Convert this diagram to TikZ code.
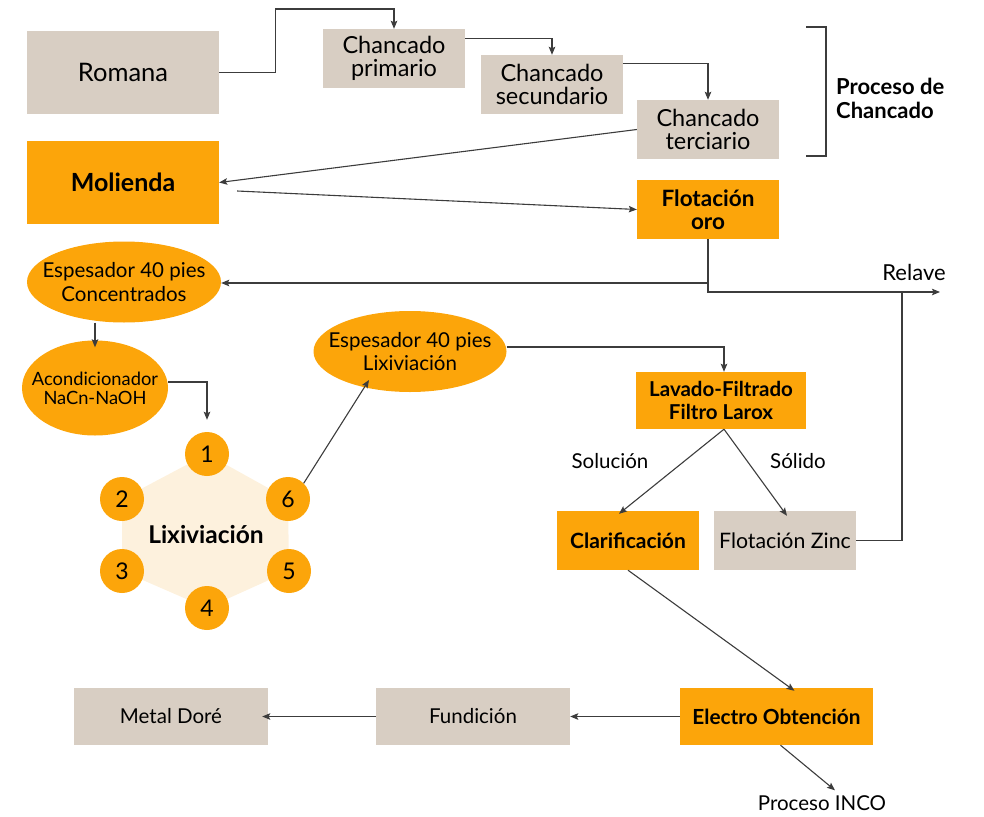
\documentclass[tikz,border=0pt]{standalone}
\usepackage{fontspec}
\setmainfont{Lato}
\usetikzlibrary{shapes.geometric,arrows.meta,calc}
\definecolor{beigec}{HTML}{D8CEC3}
\definecolor{orangec}{HTML}{FCA50A}
\definecolor{hexc}{HTML}{FDF1DD}
\definecolor{linec}{HTML}{3C3C3C}
\newcommand{\fs}[2]{\fontsize{#1}{#2}\selectfont}
\begin{document}
\begin{tikzpicture}[x=1pt,y=-1pt,
  beigebox/.style={fill=beigec,inner sep=0pt,align=center,text=black},
  orangebox/.style={fill=orangec,inner sep=0pt,align=center,text=black,font=\bfseries\fs{21}{23.3}},
  ovalnode/.style={ellipse,fill=orangec,inner sep=0pt},
  numc/.style={circle,fill=orangec,minimum size=44pt,inner sep=0pt,font=\fs{23}{23}},
  conn/.style={draw=linec,line width=1.1pt},
  arr/.style={conn,-{Stealth[length=8pt,width=6.5pt,inset=1.5pt]}},
  plain/.style={inner sep=0pt,text=black}]
\useasboundingbox (0,0) rectangle (984,816);

% top row
\node[beigebox,minimum width=192pt,minimum height=83pt,font=\fs{25.5}{26}] (rom) at (123,72.5) {Romana};
\node[beigebox,minimum width=142pt,minimum height=59pt,font=\fs{23.5}{23.3}] (cp) at (394,58.5) {Chancado\\primario};
\node[beigebox,minimum width=142pt,minimum height=59pt,font=\fs{23.5}{23.3}] (cs) at (552,84.5) {Chancado\\secundario};
\node[beigebox,minimum width=142pt,minimum height=59pt,font=\fs{23.5}{23.3}] (ct) at (708,129.5) {Chancado\\terciario};
\node[plain,anchor=west,align=left,font=\bfseries\fs{22}{24}] (pdc) at (836,98) {Proceso de\\Chancado};
\draw[conn] (806,27) -- (826,27) -- (826,156) -- (806,156);

\node[orangebox,minimum width=192pt,minimum height=83pt,font=\bfseries\fs{25}{25}] (mol) at (123,182.5) {Molienda};
\node[orangebox,minimum width=142pt,minimum height=59pt,font=\bfseries\fs{22.5}{23.3}] (flo) at (708,209.5) {Flotación\\oro};

% ellipses
\node[ovalnode,minimum width=194pt,minimum height=81pt,
  label={[plain,align=center,font=\fs{20.5}{23.3}]center:Espesador 40 pies\\Concentrados}] (espc) at (124,282) {};
\node[ovalnode,minimum width=146pt,minimum height=95pt,
  label={[plain,align=center,font=\fs{18.3}{19.3}]center:Acondicionador\\NaCn-NaOH}] (acond) at (95,388) {};
\node[ovalnode,minimum width=193pt,minimum height=81pt,
  label={[plain,align=center,font=\fs{20.5}{23.3}]center:Espesador 40 pies\\Lixiviación}] (espl) at (410,351.5) {};

% hexagon
\coordinate (h1) at (207,454);
\coordinate (h6) at (288,499);
\coordinate (h5) at (289,571);
\coordinate (h4) at (207,608);
\coordinate (h3) at (122,571);
\coordinate (h2) at (122,499);
\fill[hexc] (h1) -- (h6) -- (h5) -- (h4) -- (h3) -- (h2) -- cycle;
\node[numc] (c1) at (h1) {1};
\node[numc] (c2) at (h2) {2};
\node[numc] (c3) at (h3) {3};
\node[numc] (c4) at (h4) {4};
\node[numc] (c5) at (h5) {5};
\node[numc] (c6) at (h6) {6};
\node[plain,font=\bfseries\fs{24.5}{25}] (lix) at (206,535) {Lixiviación};

% right middle
\node[orangebox,minimum width=170pt,minimum height=57pt,font=\bfseries\fs{20.5}{23.3}] (lav) at (721,400.5) {Lavado-Filtrado\\Filtro Larox};
\node[orangebox,minimum width=142pt,minimum height=59pt,font=\bfseries\fs{21}{23}] (clar) at (628,540.5) {Clarificación};
\node[beigebox,minimum width=142pt,minimum height=59pt,font=\fs{21.3}{23}] (zinc) at (785,540.5) {Flotación Zinc};
\node[plain,font=\fs{20.5}{22}] (sol) at (610,461) {Solución};
\node[plain,font=\fs{20.5}{22}] (sold) at (798,461) {Sólido};
\node[plain,font=\fs{22}{22}] (relt) at (914,272) {Relave};
\coordinate (relend) at (940,292);
\coordinate (relj) at (902,292);

% bottom row
\node[orangebox,minimum width=193pt,minimum height=57pt,font=\bfseries\fs{20.8}{23}] (elec) at (776.5,716.5) {Electro Obtención};
\node[beigebox,minimum width=194pt,minimum height=57pt,font=\fs{20.5}{23}] (fund) at (473,716.5) {Fundición};
\node[beigebox,minimum width=194pt,minimum height=57pt,font=\fs{20.5}{23}] (metal) at (171,716.5) {Metal Doré};
\node[plain,font=\fs{20.5}{22}] (inco) at (822,803) {Proceso INCO};

% connectors
\draw[arr] (rom.east) -- ++(56,0) -- ++(0,-63.5) -| (cp.north);
\draw[arr] ([yshift=-9.5pt]cp.north east) -| (cs.north);
\draw[arr] ([yshift=-9pt]cs.north east) -| (ct.north);
\draw[arr] (ct.west) -- (mol.east);
\coordinate (mstart) at ([xshift=18pt,yshift=-8.5pt]mol.east);
\draw[arr] (mstart) -- (flo.west);
\draw[arr] (flo.south) |- ([yshift=-1pt]espc.east);
\draw[arr] (flo.south) |- (relend);
\draw[conn] (zinc.east) -| (relj);
\draw[arr] (espc.south -| acond.north) -- ([yshift=-7pt]acond.north);
\draw[arr,shorten >=12pt] ([yshift=6pt]acond.east) -| (c1.north);
\draw[arr] (c6.north east) -- ([xshift=-41pt,yshift=-28.5pt]espl.center);
\draw[arr] ([yshift=4.5pt]espl.east) -| ([xshift=3pt]lav.north);
\draw[arr] ([xshift=3pt]lav.south) -- ([xshift=-9pt,yshift=-3pt]clar.north);
\draw[arr] ([xshift=3pt]lav.south) -- ([xshift=2pt,yshift=-5pt]zinc.north);
\draw[arr] (clar.south) -- ([xshift=18pt,yshift=-3pt]elec.north);
\draw[arr] (elec.west) -- (fund.east);
\draw[arr] (fund.west) -- ([xshift=-6pt]metal.east);
\draw[arr] ([xshift=4pt]elec.south) -- ([xshift=13pt,yshift=5pt]inco.north);
\end{tikzpicture}
\end{document}
